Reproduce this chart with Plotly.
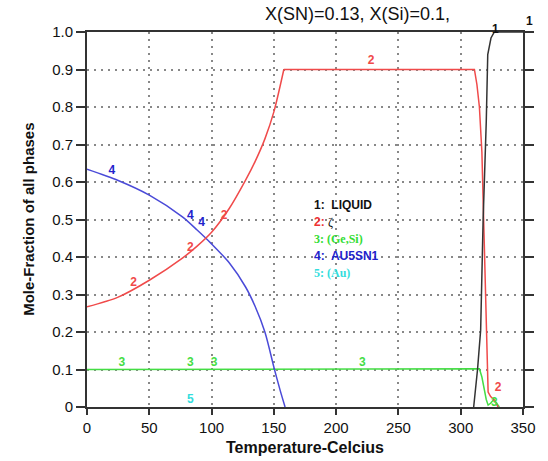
import plotly.graph_objects as go

# ---- data ----
liquid_x = [310.4, 313.5, 316, 318, 320.5, 321.7, 324.3, 327, 350]
liquid_y = [0.0, 0.10, 0.205, 0.50, 0.76, 0.94, 0.984, 1.0, 1.0]

zeta_x = [0, 25, 50, 76.6, 88.4, 100, 114.3, 127.3, 135, 142.8, 150, 158,
          311, 313, 315, 317, 318, 319, 320, 320.6, 321.2, 322, 324, 326, 328, 330]
zeta_y = [0.267, 0.293, 0.338, 0.397, 0.429, 0.466, 0.530, 0.605, 0.655, 0.715, 0.787, 0.900,
          0.900, 0.860, 0.800, 0.680, 0.550, 0.400, 0.250, 0.160, 0.080, 0.040, 0.028, 0.022, 0.012, 0.0]

gesi_x = [0, 312, 315, 317, 318.7, 320.5, 322, 324, 326.6, 329, 331]
gesi_y = [0.1, 0.1, 0.102, 0.080, 0.050, 0.020, 0.005, 0.010, 0.020, 0.010, 0.0]

au5sn_x = [0, 25, 50, 76.6, 88.4, 100, 114.3, 127.3, 135, 142.8, 150.5, 155, 159]
au5sn_y = [0.634, 0.604, 0.565, 0.507, 0.472, 0.435, 0.384, 0.320, 0.268, 0.200, 0.100, 0.045, 0.0]

# curve number labels (data coordinates)
lab1_x = [328, 355]
lab1_y = [1.008, 1.028]
lab2_x = [37.5, 83, 110, 228, 330]
lab2_y = [0.332, 0.425, 0.510, 0.924, 0.05]
lab3_x = [28, 83, 102, 221, 327]
lab3_y = [0.117, 0.117, 0.117, 0.117, 0.012]
lab4_x = [20, 83, 92]
lab4_y = [0.629, 0.51, 0.49]
lab5_x = [83]
lab5_y = [0.02]

x_ticks = [0, 50, 100, 150, 200, 250, 300, 350]
y_ticks = [0, 0.1, 0.2, 0.3, 0.4, 0.5, 0.6, 0.7, 0.8, 0.9, 1.0]
y_ticktext = ["0", "0.1", "0.2", "0.3", "0.4", "0.5", "0.6", "0.7", "0.8", "0.9", "1.0"]

legend_items = [
    "<b>1:  LIQUID</b>",
    "<b>2:</b> <span style='font-family:Liberation Serif;color:#111'>ζ</span>",
    "<span style='font-family:Liberation Serif'><b>3: (Ge,Si)</b></span>",
    "<b>4:  AU5SN1</b>",
    "<span style='font-family:Liberation Serif'><b>5: (Au)</b></span>",
]
legend_colors = ["#111111", "#ee3333", "#33dd33", "#2222cc", "#33dddd"]

title_text = "X(SN)=0.13, X(Si)=0.1,"

BLACK = "#333333"
RED = "#f04a4a"
GREEN = "#44dd44"
BLUE = "#4a4ad8"
CYAN = "#33dddd"
FONT = "Liberation Sans, Arial, sans-serif"

X_MAX, Y_MAX = 350, 1.0

fig = go.Figure()
fig.add_trace(go.Scatter(x=gesi_x, y=gesi_y, mode="lines", line=dict(color=GREEN, width=1.5)))
fig.add_trace(go.Scatter(x=au5sn_x, y=au5sn_y, mode="lines",
                         line=dict(color=BLUE, width=1.5, shape="spline", smoothing=0.8)))
# zeta: smooth rising part, then the plateau and steep drop
k = zeta_x.index(158) + 1
fig.add_trace(go.Scatter(x=zeta_x[:k], y=zeta_y[:k], mode="lines",
                         line=dict(color=RED, width=1.5, shape="spline", smoothing=0.8)))
fig.add_trace(go.Scatter(x=zeta_x[k - 1:], y=zeta_y[k - 1:], mode="lines",
                         line=dict(color=RED, width=1.5)))
fig.add_trace(go.Scatter(x=liquid_x, y=liquid_y, mode="lines", line=dict(color=BLACK, width=1.5),
                         cliponaxis=False))

for num, lx, ly, col in [(2, lab2_x, lab2_y, RED), (3, lab3_x, lab3_y, GREEN),
                         (4, lab4_x, lab4_y, "#2222cc"), (5, lab5_x, lab5_y, CYAN)]:
    fig.add_trace(go.Scatter(x=lx, y=ly, mode="text", text=["<b>%d</b>" % num] * len(lx),
                             textfont=dict(color=col, size=12, family=FONT), cliponaxis=False))

# plot area in pixels
L, R, T, B = 87, 533, 32, 407
W, H = R - L, B - T


def px(x):
    return (x - L) / W


def py(y):
    return (B - y) / H


annotations = []
# labels of curve 1 sit on/above the frame: place them in paper units from data values
for lx, ly in zip(lab1_x, lab1_y):
    annotations.append(dict(x=lx / X_MAX, y=ly / Y_MAX, xref="paper", yref="paper",
                            text="<b>1</b>", showarrow=False,
                            xanchor="center", yanchor="middle",
                            font=dict(color="#111111", size=12, family=FONT)))
for i, (txt, col) in enumerate(zip(legend_items, legend_colors)):
    annotations.append(dict(x=px(317), y=py(205 + i * 17), xref="paper", yref="paper",
                            text=txt, showarrow=False, xanchor="left", yanchor="middle",
                            font=dict(color=col, size=12, family=FONT)))
annotations.append(dict(x=px(267), y=py(14), xref="paper", yref="paper", text=title_text,
                        showarrow=False, xanchor="left", yanchor="middle",
                        font=dict(color="#111111", size=18, family=FONT)))
annotations.append(dict(x=px(27), y=0.5, xref="paper", yref="paper",
                        text="<b>Mole-Fraction of all phases</b>", textangle=-90, showarrow=False,
                        xanchor="center", yanchor="middle",
                        font=dict(color="#111111", size=15, family=FONT)))
annotations.append(dict(x=0.5, y=py(447), xref="paper", yref="paper",
                        text="<b>Temperature-Celcius</b>", showarrow=False,
                        xanchor="center", yanchor="middle",
                        font=dict(color="#111111", size=16, family=FONT)))

fig.update_layout(
    width=548, height=461,
    margin=dict(l=L, r=548 - R, t=T, b=461 - B),
    paper_bgcolor="white", plot_bgcolor="white",
    showlegend=False,
    annotations=annotations,
    font=dict(family=FONT, color="#111111"),
)
fig.update_xaxes(range=[0, X_MAX], tickvals=x_ticks, ticktext=[str(v) for v in x_ticks],
                 showline=True, linecolor=BLACK, linewidth=2, mirror=True,
                 ticks="outside", ticklen=6, tickwidth=2, tickcolor=BLACK,
                 showgrid=True, gridcolor="#888888", gridwidth=1.5, griddash="2px,5px",
                 zeroline=False, tickfont=dict(size=15, family=FONT, color="#111111"))
fig.update_yaxes(range=[0, Y_MAX], tickvals=y_ticks, ticktext=y_ticktext,
                 showline=True, linecolor=BLACK, linewidth=2, mirror="ticks",
                 ticks="outside", ticklen=9, tickwidth=2, tickcolor=BLACK,
                 showgrid=True, gridcolor="#888888", gridwidth=1.5, griddash="2px,5px",
                 zeroline=False, tickfont=dict(size=15, family=FONT, color="#111111"))

fig.write_html("out.html")
